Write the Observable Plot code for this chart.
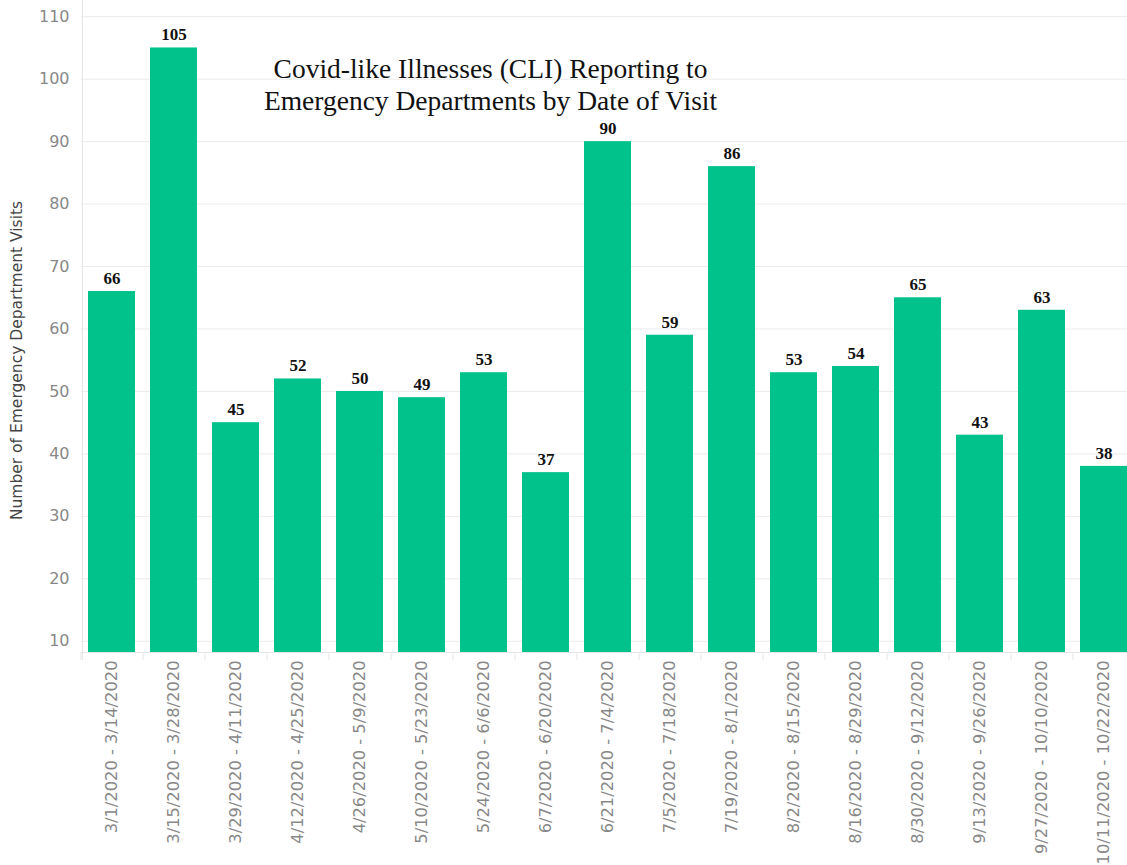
<!DOCTYPE html>
<html>
<head>
<meta charset="utf-8">
<script src="https://cdn.jsdelivr.net/npm/d3@7"></script>
<script src="https://cdn.jsdelivr.net/npm/@observablehq/plot@0.6"></script>
<style>
  html, body { margin: 0; padding: 0; background: #fff; overflow: hidden; }
  #chart { position: relative; width: 1127px; height: 865px; }
</style>
</head>
<body>
<div id="chart"></div>
<script>
const periods = [
  "3/1/2020 - 3/14/2020", "3/15/2020 - 3/28/2020", "3/29/2020 - 4/11/2020",
  "4/12/2020 - 4/25/2020", "4/26/2020 - 5/9/2020", "5/10/2020 - 5/23/2020",
  "5/24/2020 - 6/6/2020", "6/7/2020 - 6/20/2020", "6/21/2020 - 7/4/2020",
  "7/5/2020 - 7/18/2020", "7/19/2020 - 8/1/2020", "8/2/2020 - 8/15/2020",
  "8/16/2020 - 8/29/2020", "8/30/2020 - 9/12/2020", "9/13/2020 - 9/26/2020",
  "9/27/2020 - 10/10/2020", "10/11/2020 - 10/22/2020"
];
const visits = [66, 105, 45, 52, 50, 49, 53, 37, 90, 59, 86, 53, 54, 65, 43, 63, 38];
const yTicks = [10, 20, 30, 40, 50, 60, 70, 80, 90, 100, 110];
const titleText = "Covid-like Illnesses (CLI) Reporting to\nEmergency Departments by Date of Visit";
const yLabel = "Number of Emergency Department Visits";

const data = periods.map((p, i) => ({period: p, visits: visits[i]}));
const green = "#00c28a";
const yMin = 8.2;
const serif = "'Liberation Serif', 'Times New Roman', serif";
const sans = "'DejaVu Sans', sans-serif";

const chart = Plot.plot({
  width: 1127,
  height: 865,
  marginLeft: 81,
  marginRight: 0,
  marginTop: 0,
  marginBottom: 213,
  style: {fontFamily: sans, background: "#fff"},
  x: {domain: periods, range: [81, 1134], paddingInner: 0.24, paddingOuter: 0.1, align: 0.5},
  y: {domain: [yMin, 112.6]},
  marks: [
    Plot.gridY(yTicks, {stroke: "#ebebeb", strokeOpacity: 1}),
    Plot.barY(data, {x: "period", y1: yMin, y2: "visits", fill: green}),
    Plot.text(data, {x: "period", y: "visits", text: d => String(d.visits), dy: -13,
      fontFamily: serif, fontWeight: "bold", fontSize: 17, fill: "#111"}),
    Plot.ruleX([0], {x: () => periods[0], dx: -29.5, y1: 112.6, y2: 6.9, stroke: "#e6e6e6"}),
    Plot.ruleY([yMin], {stroke: "#e6e6e6"}),
    Plot.axisY({ticks: yTicks, tickSize: 0, tickPadding: 12, fontSize: 16, fill: "#888", label: null}),
    Plot.axisX({tickSize: 8, tickFormat: () => "", dx: -31, stroke: "#e6e6e6", label: null}),
    Plot.axisX({tickSize: 0, tickPadding: 8, tickRotate: -90, fontSize: 16.3, fill: "#888", label: null}),
    Plot.text([yLabel], {frameAnchor: "left", textAnchor: "middle", dx: -64, dy: 34, rotate: -90, text: d => d,
      fontSize: 15.5, letterSpacing: 0.6, fill: "#444", fontFamily: sans}),
    Plot.text([titleText], {frameAnchor: "top-left", dx: 409, dy: 83, text: d => d, textAnchor: "middle",
      lineAnchor: "middle", lineHeight: 1.17, fontSize: 27.5, fontFamily: serif, fill: "#111"})
  ]
});
document.getElementById("chart").appendChild(chart);
</script>
</body>
</html>
